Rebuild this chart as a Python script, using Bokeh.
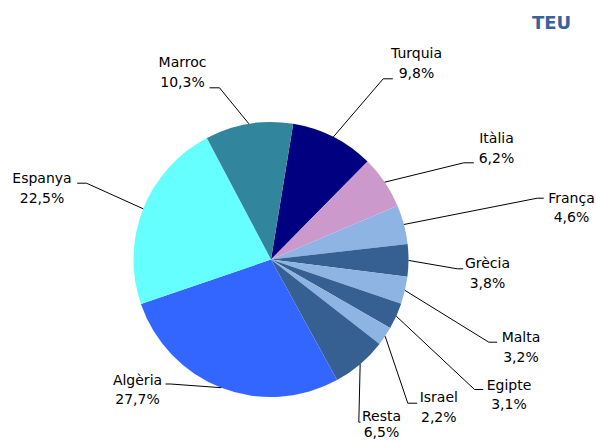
import math
from bokeh.plotting import figure
from bokeh.models import Range1d, ColumnDataSource
from bokeh.core.properties import value
from bokeh.embed import file_html
from bokeh.resources import INLINE

# ---- data ----
countries = ["Turquia", "Itàlia", "França", "Grècia", "Malta", "Egipte",
             "Israel", "Resta", "Algèria", "Espanya", "Marroc"]
shares = [9.8, 6.2, 4.6, 3.8, 3.2, 3.1, 2.2, 6.5, 27.7, 22.5, 10.3]
colors = ["#000080", "#cc99cc", "#8db4e2", "#376092", "#8db4e2", "#376092",
          "#8db4e2", "#376092", "#3366ff", "#66ffff", "#31859c"]
title_text = "TEU"

# ---- layout (screen pixel coords; y measured from top) ----
W, H = 596, 441
def sy(y):
    return H - y

cx, cy, R = 270.5, sy(259), 137.5
start_deg = 80.7

# elbow x,y ; end x,y ; text center x ; line1 y ; line2 y
label_layout = [
    (382.7, 78.3, 392.3, 78.3, 416, 52.7, 72.7),     # Turquia
    (463.3, 162.3, 473.3, 162.3, 496, 137.3, 157.3), # Itàlia
    (536.7, 197.7, 543.3, 197.7, 571, 197.3, 216.7), # França
    (456.7, 268.3, 462.7, 268.3, 487, 262.7, 282.7), # Grècia
    (488.3, 341.7, 496.7, 341.7, 520.5, 336.7, 356.7), # Malta
    (474.0, 389.0, 482.7, 389.0, 508.5, 384.3, 403.3), # Egipte
    (407.3, 402.7, 416.7, 402.7, 438.3, 396.7, 416.7), # Israel
    (358.3, 421.7, 360.0, 421.7, 381, 415.5, 431.5),  # Resta
    (170.0, 383.5, 165.0, 383.5, 137, 379.3, 398.3),  # Algèria
    (86.0, 182.7, 76.7, 182.7, 41.5, 177.7, 197.7),   # Espanya
    (219.0, 87.3, 209.0, 87.3, 182, 61.7, 81.7),      # Marroc
]

total = sum(shares)
starts, ends, mids = [], [], []
a = math.radians(start_deg)
for s in shares:
    span = s / total * 2 * math.pi
    ends.append(a)
    starts.append(a - span)
    mids.append(a - span / 2)
    a -= span

p = figure(width=W, height=H, output_backend="svg", toolbar_location=None,
           x_range=Range1d(0, W), y_range=Range1d(0, H),
           x_axis_location=None, y_axis_location=None, min_border=0,
           outline_line_color=None, background_fill_color="white")
p.grid.visible = False

src = ColumnDataSource(dict(start=starts, end=ends, color=colors,
                            name=countries, share=shares))
p.wedge(x=cx, y=cy, radius=R, start_angle="start", end_angle="end",
        fill_color="color", line_color=None, source=src)

xs, ys = [], []
tx, ty1, ty2, names, pcts = [], [], [], [], []
for i, m in enumerate(mids):
    ex, ey, lx, ly, tcx, t1, t2 = label_layout[i]
    px = cx + R * math.cos(m)
    py = cy + R * math.sin(m)
    xs.append([px, ex, lx])
    ys.append([py, sy(ey), sy(ly)])
    tx.append(tcx)
    ty1.append(sy(t1))
    ty2.append(sy(t2))
    names.append(countries[i])
    pcts.append(("%.1f" % shares[i]).replace(".", ",") + "%")

p.multi_line(xs=xs, ys=ys, line_color="black", line_width=1)

p.text(x=tx, y=ty1, text=names, text_align="center", text_baseline="middle",
       text_font=value("DejaVu Sans"), text_font_size="14px", text_color="black")
p.text(x=tx, y=ty2, text=pcts, text_align="center", text_baseline="middle",
       text_font=value("DejaVu Sans"), text_font_size="14px", text_color="black")

p.text(x=[551], y=[sy(22)], text=[title_text], text_align="center",
       text_baseline="middle", text_font=value("DejaVu Sans"),
       text_font_size="18px", text_font_style="bold", text_color="#38629a")

open("out.html", "w").write(file_html(p, INLINE))
